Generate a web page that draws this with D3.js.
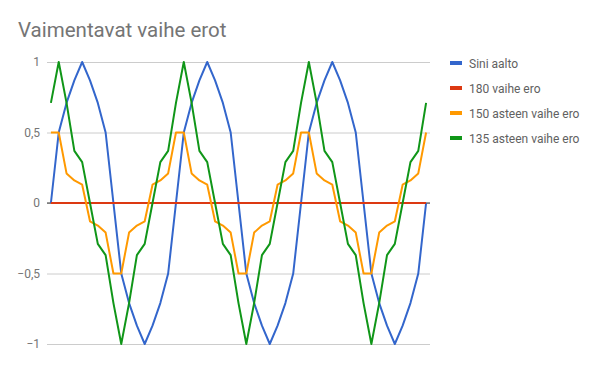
<!DOCTYPE html>
<html>
<head>
<meta charset="utf-8">
<script src="https://cdn.jsdelivr.net/npm/d3@7"></script>
<style>
  html, body { margin: 0; padding: 0; background: #fff; }
  svg { display: block; font-family: Roboto, "Noto Sans", sans-serif; }
</style>
</head>
<body>
<svg id="chart" width="600" height="371"></svg>
<script>
// ── data ──
// x categories: angle in degrees (not shown on the axis)
const angles = [
  0, 30, 45, 60, 90, 120, 135, 150, 180, 210, 225, 240, 270, 300, 315, 330,
  360, 390, 405, 420, 450, 480, 495, 510, 540, 570, 585, 600, 630, 660, 675, 690,
  720, 750, 765, 780, 810, 840, 855, 870, 900, 930, 945, 960, 990, 1020, 1035, 1050,
  1080
];

const sini = [
  0, 0.5, 0.71, 0.87, 1, 0.87, 0.71, 0.5, 0, -0.5, -0.71, -0.87, -1, -0.87, -0.71, -0.5,
  0, 0.5, 0.71, 0.87, 1, 0.87, 0.71, 0.5, 0, -0.5, -0.71, -0.87, -1, -0.87, -0.71, -0.5,
  0, 0.5, 0.71, 0.87, 1, 0.87, 0.71, 0.5, 0, -0.5, -0.71, -0.87, -1, -0.87, -0.71, -0.5,
  0
];

const ero180 = [
  0, 0, 0, 0, 0, 0, 0, 0, 0, 0, 0, 0, 0, 0, 0, 0,
  0, 0, 0, 0, 0, 0, 0, 0, 0, 0, 0, 0, 0, 0, 0, 0,
  0, 0, 0, 0, 0, 0, 0, 0, 0, 0, 0, 0, 0, 0, 0, 0,
  0
];

const ero150 = [
  0.5, 0.5, 0.21, 0.16, 0.13, -0.13, -0.16, -0.21, -0.5, -0.5, -0.21, -0.16, -0.13, 0.13, 0.16, 0.21,
  0.5, 0.5, 0.21, 0.16, 0.13, -0.13, -0.16, -0.21, -0.5, -0.5, -0.21, -0.16, -0.13, 0.13, 0.16, 0.21,
  0.5, 0.5, 0.21, 0.16, 0.13, -0.13, -0.16, -0.21, -0.5, -0.5, -0.21, -0.16, -0.13, 0.13, 0.16, 0.21,
  0.5
];

const ero135 = [
  0.71, 1, 0.71, 0.37, 0.29, 0, -0.29, -0.37, -0.71, -1, -0.71, -0.37, -0.29, 0, 0.29, 0.37,
  0.71, 1, 0.71, 0.37, 0.29, 0, -0.29, -0.37, -0.71, -1, -0.71, -0.37, -0.29, 0, 0.29, 0.37,
  0.71, 1, 0.71, 0.37, 0.29, 0, -0.29, -0.37, -0.71, -1, -0.71, -0.37, -0.29, 0, 0.29, 0.37,
  0.71
];

const seriesNames = ['Sini aalto', '180 vaihe ero', '150 asteen vaihe ero', '135 asteen vaihe ero'];
const seriesValues = [sini, ero180, ero150, ero135];
const COLORS = ['#3366cc', '#dc3912', '#ff9900', '#109618'];

const yTicks = [-1, -0.5, 0, 0.5, 1];
const yTickLabels = ['\u22121', '\u22120,5', '0', '0,5', '1'];

// ── layout ──
const svg = d3.select('#chart');
const plot = { left: 47, right: 430, top: 62, bottom: 344 };

const x = d3.scalePoint(angles, [plot.left, plot.right]).padding(0.5);
const y = d3.scaleLinear([-1, 1], [plot.bottom, plot.top]);

// title
svg.append('text')
  .attr('x', 18).attr('y', 37)
  .attr('font-size', 20.5).attr('fill', '#757575')
  .text('Vaimentavat vaihe erot');

// gridlines + tick labels
const yAxis = d3.axisLeft(y)
  .tickValues(yTicks)
  .tickSize(-(plot.right - plot.left))
  .tickPadding(7)
  .tickFormat((d, i) => yTickLabels[i]);

svg.append('g')
  .attr('transform', `translate(${plot.left},0)`)
  .call(yAxis)
  .call(g => g.select('.domain').remove())
  .call(g => g.selectAll('.tick line').attr('stroke', '#cccccc'))
  .call(g => g.selectAll('.tick text')
    .attr('font-size', 12).attr('fill', '#757575')
    .attr('font-family', 'Roboto, sans-serif'));

// baseline at zero
svg.append('line')
  .attr('x1', plot.left).attr('x2', plot.right)
  .attr('y1', y(0)).attr('y2', y(0))
  .attr('stroke', '#333333').attr('stroke-width', 1);

// series lines
const line = d3.line()
  .x((d, i) => x(angles[i]))
  .y(d => y(d));

seriesValues.forEach((vals, s) => {
  svg.append('path')
    .datum(vals)
    .attr('d', line)
    .attr('fill', 'none')
    .attr('stroke', COLORS[s])
    .attr('stroke-width', 2)
    .attr('stroke-linejoin', 'round');
});

// legend
const lg = svg.append('g').attr('transform', 'translate(450, 63)');
seriesNames.forEach((name, i) => {
  const row = lg.append('g').attr('transform', `translate(0, ${i * 25})`);
  row.append('rect')
    .attr('x', 0).attr('y', -2).attr('width', 12).attr('height', 4)
    .attr('fill', COLORS[i]);
  row.append('text')
    .attr('x', 19).attr('y', 4.5)
    .attr('font-size', 12).attr('fill', '#616161')
    .text(name);
});
</script>
</body>
</html>
